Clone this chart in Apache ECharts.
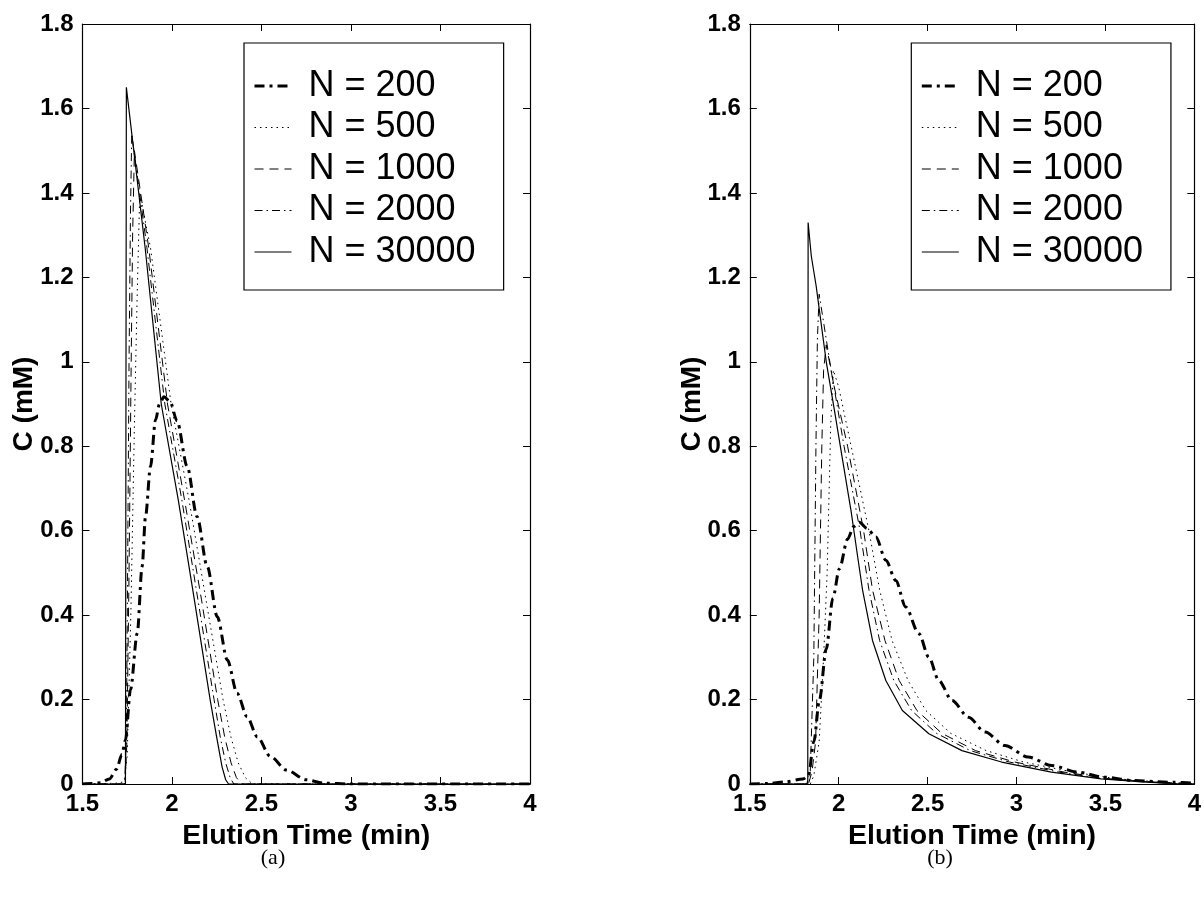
<!DOCTYPE html>
<html>
<head>
<meta charset="utf-8">
<script src="https://cdn.jsdelivr.net/npm/echarts@6/dist/echarts.min.js"></script>
<style>
html,body{margin:0;padding:0;background:#fff;}
#chart{width:1204px;height:898px;}
</style>
</head>
<body>
<div id="chart"></div>
<script>
// ---- data (time in min, C in mM) ----
const seriesNames = ['N = 200', 'N = 500', 'N = 1000', 'N = 2000', 'N = 30000'];
const xMin = 1.5, xMax = 4, xStep = 0.5;
const yMin = 0, yMax = 1.8, yStep = 0.2;
const panelLabels = ['(a)', '(b)'];
const axisTitleX = 'Elution Time (min)';
const axisTitleY = 'C (mM)';

// panel (a)
const a200 = [[1.5,0],[1.55,0.001],[1.6,0.003],[1.65,0.012],[1.69,0.035],[1.72,0.07],[1.74,0.104],[1.768,0.223],[1.806,0.357],[1.833,0.515],[1.852,0.633],[1.88,0.752],[1.908,0.862],[1.93,0.9],[1.955,0.917],[1.99,0.905],[2.028,0.86],[2.085,0.752],[2.14,0.633],[2.197,0.515],[2.253,0.396],[2.309,0.294],[2.364,0.215],[2.42,0.159],[2.476,0.112],[2.55,0.065],[2.64,0.033],[2.75,0.01],[2.85,0.002],[3.0,0],[4,0]];
const a500 = [[1.5,0],[1.7,0.002],[1.735,0.006],[1.75,0.07],[1.77,0.4],[1.79,0.85],[1.805,1.15],[1.82,1.40],[1.88,1.27],[1.995,0.90],[2.095,0.673],[2.19,0.436],[2.285,0.2],[2.33,0.11],[2.37,0.05],[2.41,0.015],[2.45,0],[4,0]];
const a1000 = [[1.5,0],[1.738,0],[1.748,0.1],[1.76,0.5],[1.772,1.0],[1.78,1.3],[1.79,1.50],[1.87,1.27],[1.975,0.90],[2.07,0.673],[2.165,0.436],[2.255,0.2],[2.295,0.11],[2.33,0.05],[2.36,0.015],[2.39,0],[4,0]];
const a2000 = [[1.5,0],[1.735,0],[1.745,0.1],[1.752,0.5],[1.76,1.0],[1.768,1.35],[1.775,1.54],[1.86,1.27],[1.96,0.90],[2.055,0.673],[2.145,0.436],[2.235,0.2],[2.27,0.11],[2.30,0.05],[2.325,0.015],[2.345,0],[4,0]];
const a30000 = [[1.5,0],[1.74,0],[1.745,1.65],[1.85,1.27],[1.94,0.90],[2.035,0.673],[2.125,0.436],[2.213,0.20],[2.25,0.11],[2.28,0.04],[2.30,0.01],[2.316,0],[4,0]];

// panel (b)
const b200 = [[1.5,0],[1.6,0.001],[1.7,0.005],[1.8,0.012],[1.83,0.02],[1.86,0.1],[1.892,0.2],[1.93,0.32],[1.967,0.44],[2.004,0.51],[2.05,0.58],[2.085,0.61],[2.116,0.62],[2.16,0.605],[2.209,0.585],[2.265,0.53],[2.321,0.482],[2.377,0.419],[2.451,0.356],[2.507,0.30],[2.563,0.245],[2.637,0.198],[2.73,0.158],[2.823,0.123],[2.935,0.091],[3.065,0.064],[3.196,0.044],[3.345,0.028],[3.494,0.016],[3.661,0.008],[3.885,0.004],[4,0.002]];
const b500 = [[1.5,0],[1.84,0],[1.86,0.02],[1.89,0.1],[1.915,0.3],[1.935,0.5],[1.955,0.85],[1.97,0.98],[2.0,0.94],[2.07,0.8],[2.17,0.6],[2.23,0.46],[2.30,0.34],[2.39,0.245],[2.49,0.174],[2.63,0.12],[2.83,0.079],[3.04,0.052],[3.32,0.028],[3.57,0.012],[3.84,0.004],[3.97,0.001],[4,0]];
const b1000 = [[1.5,0],[1.83,0],[1.85,0.03],[1.87,0.1],[1.89,0.4],[1.905,0.8],[1.915,0.98],[1.93,1.04],[1.97,0.95],[2.05,0.8],[2.14,0.6],[2.19,0.46],[2.26,0.34],[2.34,0.245],[2.44,0.174],[2.58,0.12],[2.77,0.079],[2.99,0.052],[3.27,0.028],[3.53,0.012],[3.8,0.004],[3.96,0.001],[4,0]];
const b2000 = [[1.5,0],[1.82,0],[1.84,0.03],[1.86,0.3],[1.872,0.8],[1.88,1.05],[1.89,1.16],[1.95,1.0],[2.03,0.8],[2.12,0.6],[2.17,0.46],[2.23,0.34],[2.31,0.245],[2.41,0.174],[2.55,0.12],[2.74,0.079],[2.96,0.052],[3.24,0.028],[3.5,0.012],[3.78,0.004],[3.95,0.001],[4,0]];
const b30000 = [[1.5,0],[1.826,0],[1.828,1.33],[1.846,1.25],[1.873,1.18],[1.892,1.12],[1.93,1.0],[1.976,0.885],[2.022,0.767],[2.069,0.648],[2.106,0.54],[2.134,0.46],[2.19,0.34],[2.265,0.245],[2.358,0.174],[2.507,0.119],[2.693,0.079],[2.916,0.052],[3.196,0.028],[3.475,0.012],[3.754,0.004],[3.9,0.001],[4,0]];

const panelA = [a200, a500, a1000, a2000, a30000];
const panelB = [b200, b500, b1000, b2000, b30000];

// ---- styles ----
const lineStyles = [
  {width: 3, type: [10, 5, 3, 5]},
  {width: 1, type: [1.5, 4]},
  {width: 1, type: [9, 6]},
  {width: 1, type: [8, 4, 1.5, 4]},
  {width: 1.2, type: 'solid'}
];
const FONT = 'Liberation Sans, Arial, Helvetica, sans-serif';
const grids = [
  {left: 82.5, top: 24, width: 447.5, height: 760},
  {left: 749.8, top: 24, width: 447.5, height: 760}
];

const chart = echarts.init(document.getElementById('chart'), null, {renderer: 'canvas'});

const xAxes = [], yAxes = [], series = [], legends = [], graphics = [];
grids.forEach((g, gi) => {
  const axLine = {show: true, onZero: false, lineStyle: {color: '#000', width: 1.2}};
  const tick = {show: true, inside: true, length: 7, lineStyle: {color: '#000', width: 1}};
  xAxes.push({
    type: 'value', gridIndex: gi, position: 'bottom', min: xMin, max: xMax, interval: xStep,
    axisLine: axLine, axisTick: tick, splitLine: {show: false},
    axisLabel: {color: '#000', fontFamily: FONT, fontWeight: 'bold', fontSize: 24, margin: 8},
    name: axisTitleX, nameLocation: 'middle', nameGap: 38, nameMoveOverlap: false,
    nameTextStyle: {color: '#000', fontFamily: FONT, fontWeight: 'bold', fontSize: 28.5}
  });
  xAxes.push({
    type: 'value', gridIndex: gi, position: 'top', min: xMin, max: xMax, interval: xStep,
    axisLine: axLine, axisTick: tick, splitLine: {show: false}, axisLabel: {show: false}
  });
  yAxes.push({
    type: 'value', gridIndex: gi, position: 'left', min: yMin, max: yMax, interval: yStep,
    axisLine: axLine, axisTick: tick, splitLine: {show: false},
    axisLabel: {color: '#000', fontFamily: FONT, fontWeight: 'bold', fontSize: 24, margin: 9},
    name: axisTitleY, nameLocation: 'middle', nameGap: 44, nameRotate: 90, nameMoveOverlap: false,
    nameTextStyle: {color: '#000', fontFamily: FONT, fontWeight: 'bold', fontSize: 28}
  });
  yAxes.push({
    type: 'value', gridIndex: gi, position: 'right', min: yMin, max: yMax, interval: yStep,
    axisLine: axLine, axisTick: tick, splitLine: {show: false}, axisLabel: {show: false}
  });
  const dataSet = gi === 0 ? panelA : panelB;
  seriesNames.forEach((nm, si) => {
    series.push({
      type: 'line', name: nm, xAxisIndex: gi * 2, yAxisIndex: gi * 2,
      data: dataSet[si], symbol: 'none', showSymbol: false,
      smooth: si === 0 ? 0.3 : false, smoothMonotone: 'x',
      lineStyle: Object.assign({color: '#000'}, lineStyles[si]),
      itemStyle: {color: '#000'},
      z: 10 - si
    });
  });
  legends.push({
    data: seriesNames.map((nm, si) => ({
      name: nm,
      lineStyle: {width: lineStyles[si].width, type: lineStyles[si].type, color: '#000'}
    })),
    orient: 'vertical', left: g.left + 161.5, top: 43,
    backgroundColor: '#fff', borderColor: '#000', borderWidth: 1.2,
    padding: [25, 28, 20, 9], itemGap: 5.5, itemWidth: 37, itemHeight: 14,
    selectedMode: false,
    itemStyle: {opacity: 0, borderWidth: 0},
    textStyle: {color: '#000', fontFamily: FONT, fontSize: 36, padding: [0, 0, 0, 12]}
  });
  graphics.push({
    type: 'text', x: g.left + (gi === 0 ? 190.5 : 190.2), y: 858,
    style: {text: panelLabels[gi], font: '22px "Liberation Serif", "Times New Roman", serif',
      fill: '#000', textAlign: 'center', textVerticalAlign: 'middle'}
  });
});

chart.setOption({
  animation: false,
  backgroundColor: '#fff',
  grid: grids,
  xAxis: xAxes,
  yAxis: yAxes,
  legend: legends,
  series: series,
  graphic: graphics
});
</script>
</body>
</html>
